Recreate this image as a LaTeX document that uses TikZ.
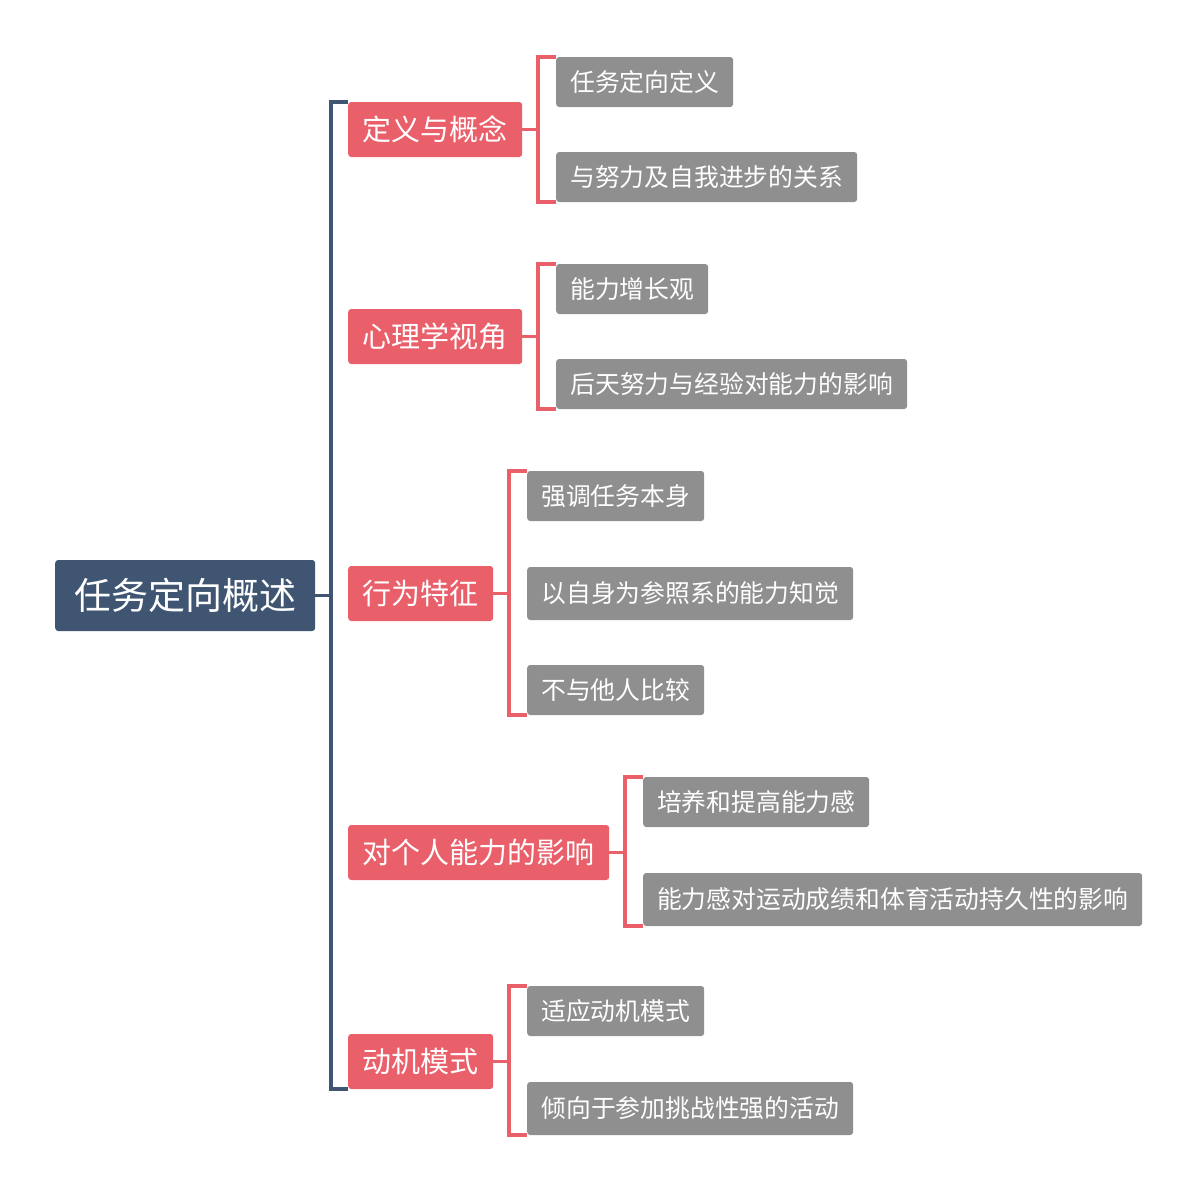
\documentclass[tikz,border=0pt]{standalone}
\usepackage{fontspec}
\setmainfont{Noto Sans CJK SC}
\definecolor{rootc}{HTML}{3F5572}
\definecolor{redc}{HTML}{E9606B}
\definecolor{grayc}{HTML}{8F8F8F}
\tikzset{
  rootbox/.style={fill=rootc, text=white, rounded corners=3pt, minimum height=71pt, inner sep=0pt, anchor=west, font=\fontsize{37}{42}\selectfont},
  lvlone/.style={fill=redc, text=white, rounded corners=3pt, minimum height=55pt, inner sep=0pt, anchor=west, font=\fontsize{29}{33}\selectfont},
  lvltwo/.style={fill=grayc, text=white, rounded corners=3pt, minimum height=50pt, inner sep=0pt, anchor=west, font=\fontsize{24.8}{29}\selectfont},
  mainline/.style={draw=rootc, line width=3.5pt},
  redline/.style={draw=redc, line width=3.5pt},
}
\begin{document}
\begin{tikzpicture}[x=1pt,y=-1pt]
\useasboundingbox (0,0) rectangle (1200,1192);
% root
\node[rootbox, minimum width=260pt] (root) at (55,595.5) {任务定向概述};
% level 1
\node[lvlone, minimum width=174pt] (n1) at (348,129.5) {定义与概念};
\node[lvlone, minimum width=174pt] (n2) at (348,336.5) {心理学视角};
\node[lvlone, minimum width=145pt] (n3) at (348,593.5) {行为特征};
\node[lvlone, minimum width=261pt] (n4) at (348,852.5) {对个人能力的影响};
\node[lvlone, minimum width=145pt] (n5) at (348,1061.5) {动机模式};
% level 2
\node[lvltwo, minimum width=177pt] (a1) at (556,82) {任务定向定义};
\node[lvltwo, minimum width=301pt] (a2) at (556,177) {与努力及自我进步的关系};
\node[lvltwo, minimum width=152pt] (b1) at (556,289) {能力增长观};
\node[lvltwo, minimum width=351pt] (b2) at (556,384) {后天努力与经验对能力的影响};
\node[lvltwo, minimum width=177pt] (c1) at (527,496) {强调任务本身};
\node[lvltwo, minimum width=326pt, minimum height=53pt] (c2) at (527,593.5) {以自身为参照系的能力知觉};
\node[lvltwo, minimum width=177pt] (c3) at (527,690) {不与他人比较};
\node[lvltwo, minimum width=226pt] (d1) at (643,802) {培养和提高能力感};
\node[lvltwo, minimum width=499pt, minimum height=53pt] (d2) at (643,899.5) {能力感对运动成绩和体育活动持久性的影响};
\node[lvltwo, minimum width=177pt] (e1) at (527,1011) {适应动机模式};
\node[lvltwo, minimum width=326pt, minimum height=53pt] (e2) at (527,1108.5) {倾向于参加挑战性强的活动};
% bracket x positions
\coordinate (bm) at (331,0);
\coordinate (ba) at (538,0);
\coordinate (bb) at (538,0);
\coordinate (bc) at (509,0);
\coordinate (bd) at (625,0);
\coordinate (be) at (509,0);
% main bracket
\draw[mainline] (root.east) -- (root.east -| bm);
\draw[mainline] (n1.north west) -- (n1.north west -| bm) -- (n5.south west -| bm) -- (n5.south west);
% group brackets
\draw[redline] (n1.east) -- (n1.east -| ba);
\draw[redline] (a1.north west) -- (a1.north west -| ba) -- (a2.south west -| ba) -- (a2.south west);
\draw[redline] (n2.east) -- (n2.east -| bb);
\draw[redline] (b1.north west) -- (b1.north west -| bb) -- (b2.south west -| bb) -- (b2.south west);
\draw[redline] (n3.east) -- (n3.east -| bc);
\draw[redline] (c1.north west) -- (c1.north west -| bc) -- (c3.south west -| bc) -- (c3.south west);
\draw[redline] (n4.east) -- (n4.east -| bd);
\draw[redline] (d1.north west) -- (d1.north west -| bd) -- (d2.south west -| bd) -- (d2.south west);
\draw[redline] (n5.east) -- (n5.east -| be);
\draw[redline] (e1.north west) -- (e1.north west -| be) -- (e2.south west -| be) -- (e2.south west);
\end{tikzpicture}
\end{document}
